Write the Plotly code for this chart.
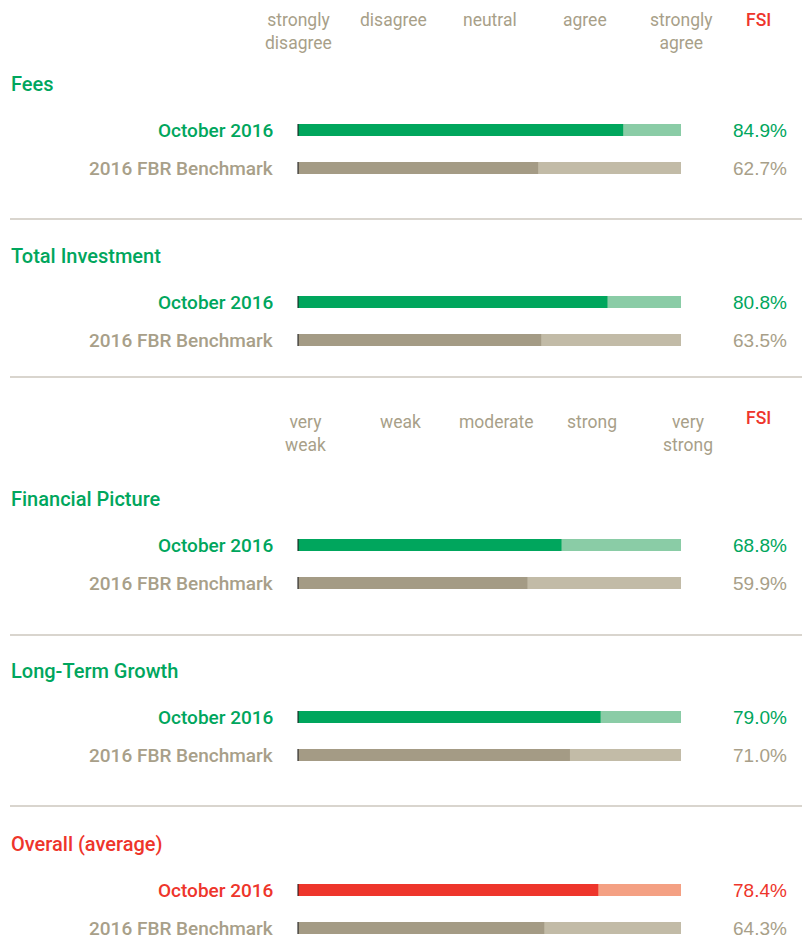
import plotly.graph_objects as go

categories = ["Fees", "Total Investment", "Financial Picture", "Long-Term Growth", "Overall (average)"]
october = [84.9, 80.8, 68.8, 79.0, 78.4]
benchmark = [62.7, 63.5, 59.9, 71.0, 64.3]
series_names = ["October 2016", "2016 FBR Benchmark"]
agree_scale = ["strongly<br>disagree", "disagree", "neutral", "agree", "strongly<br>agree"]
strength_scale = ["very<br>weak", "weak", "moderate", "strong", "very<br>strong"]
scale_ticks = [0, 25, 50, 75, 100]

W, H = 802, 940
BAR_L, BAR_R = 298, 681
PX = (BAR_R - BAR_L) / 100

COND = "Roboto, Liberation Sans Narrow, DejaVu Sans Condensed, sans-serif"
REG = "Liberation Sans, Arial, sans-serif"
GREEN, GREEN_L = "#00a65d", "#8acca6"
RED, RED_L = "#ee352b", "#f4a083"
TAN, TAN_L = "#a49b85", "#c2bba7"
TAN_TXT = "#a89f89"

title_y = [84, 256, 499, 671, 844]
dividers = [219, 377, 635, 806]
highlight = [GREEN, GREEN, GREEN, GREEN, RED]
highlight_l = [GREEN_L, GREEN_L, GREEN_L, GREEN_L, RED_L]

oct_y = [t + 46 for t in title_y]
ben_y = [t + 84 for t in title_y]

fig = go.Figure()
# full-length background tracks
fig.add_bar(y=oct_y, x=[100] * 5, orientation="h", width=12,
            marker=dict(color=highlight_l, line_width=0), hoverinfo="skip")
fig.add_bar(y=ben_y, x=[100] * 5, orientation="h", width=12,
            marker=dict(color=TAN_L, line_width=0), hoverinfo="skip")
# score bars
fig.add_bar(y=oct_y, x=october, orientation="h", width=12,
            marker=dict(color=highlight, line_width=0), name=series_names[0])
fig.add_bar(y=ben_y, x=benchmark, orientation="h", width=12,
            marker=dict(color=TAN, line_width=0), name=series_names[1])

for i, cat in enumerate(categories):
    fig.add_annotation(x=9 / W, xref="paper", y=title_y[i], yref="y", text=cat,
                       xanchor="left", showarrow=False,
                       font=dict(family=COND, size=20, color=highlight[i], weight=500))
    for yy, name, col in [(oct_y[i], series_names[0], highlight[i]), (ben_y[i], series_names[1], TAN_TXT)]:
        fig.add_annotation(x=276 / W, xref="paper", y=yy, yref="y", text=name,
                           xanchor="right", showarrow=False,
                           font=dict(family=COND, size=19, color=col, weight=500))
        fig.add_shape(type="line", x0=0, x1=0, y0=yy - 6, y1=yy + 6,
                      line=dict(color="#111111", width=1))
    fig.add_annotation(x=789 / W, xref="paper", y=oct_y[i], yref="y", text=f"{october[i]:.1f}%",
                       xanchor="right", showarrow=False,
                       font=dict(family=REG, size=19, color=highlight[i]))
    fig.add_annotation(x=789 / W, xref="paper", y=ben_y[i], yref="y", text=f"{benchmark[i]:.1f}%",
                       xanchor="right", showarrow=False,
                       font=dict(family=REG, size=19, color=TAN_TXT))

for d in dividers:
    fig.add_shape(type="line", xref="paper", x0=10 / W, x1=1, y0=d, y1=d,
                  line=dict(color="#b3ab9d", width=1))

# scale headers
for labels, top, shift in [(agree_scale, 8, 0), (strength_scale, 410, 7)]:
    for lab, t in zip(labels, scale_ticks):
        fig.add_annotation(x=t + shift / PX, y=top, yref="y", text=lab, yanchor="top",
                           xanchor="center", showarrow=False, align="center",
                           font=dict(family=COND, size=17.5, color=TAN_TXT))
    fig.add_annotation(x=758 / W, xref="paper", y=top - 4 if shift else top, yref="y", text="FSI",
                       yanchor="top", xanchor="center", showarrow=False,
                       font=dict(family=COND, size=17.5, color=RED, weight=500))

fig.update_xaxes(range=[-BAR_L / PX, (W - BAR_L) / PX], visible=False, fixedrange=True)
fig.update_yaxes(range=[H, 0], visible=False, fixedrange=True)
fig.update_layout(width=W, height=H, margin=dict(l=0, r=0, t=0, b=0), barmode="overlay",
                  showlegend=False, plot_bgcolor="white", paper_bgcolor="white")
fig.write_html("out.html", post_script="document.body.style.margin='0';",
               config={"displayModeBar": False})
